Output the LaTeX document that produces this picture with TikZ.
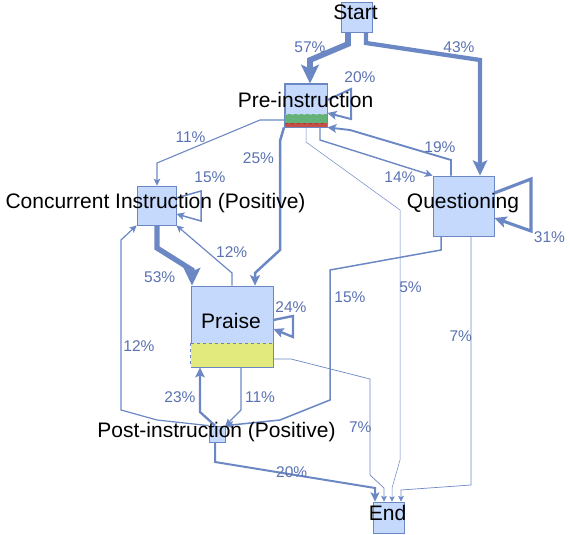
\documentclass[tikz,border=0pt]{standalone}
\usepackage{fontspec}
\setmainfont{Liberation Sans}
\usetikzlibrary{arrows.meta, calc}
\definecolor{boxblue}{RGB}{197, 217, 253}
\definecolor{edgeblue}{RGB}{108, 136, 196}
\definecolor{pctblue}{RGB}{90, 114, 178}
\definecolor{bandgreen}{RGB}{100, 178, 122}
\definecolor{bandred}{RGB}{196, 80, 70}
\definecolor{bandyellow}{RGB}{226, 234, 126}

\begin{document}
\begin{tikzpicture}[x=1pt, y=-1pt,
    box/.style={draw=edgeblue, fill=boxblue, inner sep=0pt, line width=0.8pt},
    state/.style={font=\fontsize{21}{21}\selectfont, anchor=base, inner sep=0pt},
    pct/.style={font=\fontsize{15.5}{16}\selectfont, text=pctblue, inner sep=0pt},
    flow/.style={draw=edgeblue, line width=#1,
        -{Stealth[length=4pt 2.6, width=4pt 2.4, inset=1pt 0.5]}}]
\useasboundingbox (0,0) rectangle (570,535);

% States
\node[box, minimum width=31pt, minimum height=30pt] (start) at (356.5,17) {};
\node[box, minimum width=42pt, minimum height=43pt] (pre) at (306,105.5) {};
\node[box, minimum width=39pt, minimum height=39pt] (conc) at (156.5,205.5) {};
\node[box, minimum width=61pt, minimum height=60pt] (quest) at (463.5,206) {};
\node[box, minimum width=82pt, minimum height=81pt] (praise) at (232,326.5) {};
\node[box, minimum width=16pt, minimum height=16pt] (post) at (217,434) {};
\node[box, minimum width=31pt, minimum height=31pt] (fin) at (388.5,517.5) {};

% Bands
\fill[bandgreen] ($(pre.south west)+(0,-13)$) rectangle ($(pre.south east)+(0,-4)$);
\fill[bandred] ($(pre.south west)+(0,-4)$) rectangle (pre.south east);
\draw[bandgreen!70!white, dashed, line width=0.8pt] ($(pre.south west)+(0,-13)$) -- ($(pre.south east)+(0,-13)$);
\draw[bandred!80!black, dashed, line width=0.8pt] ($(pre.south west)+(0,-4)$) -- ($(pre.south east)+(0,-4)$);
\draw[edgeblue, line width=0.8pt] (pre.north west) rectangle (pre.south east);
\filldraw[fill=bandyellow, draw=edgeblue, dashed, line width=0.8pt] ($(praise.south west)+(0,-24)$) rectangle (praise.south east);

% From start
\draw[flow=5.7pt] (348,0 |- start.south) -- (348,44) -- (310,60) -- (310,0 |- pre.north);
\draw[flow=4.3pt] (366,0 |- start.south) -- (366,43) -- (480,60) -- (480,0 |- quest.north);

% Self loops
\draw[flow=2pt] (pre.east |- 0,100) -- (351,89) -- (351,119) -- (pre.east |- 0,113);
\draw[flow=1.5pt] (conc.east |- 0,198) -- (201,191) -- (201,221) -- (conc.east |- 0,214);
\draw[flow=3.1pt] (quest.east |- 0,193) -- (531,179) -- (531,231) -- (quest.east |- 0,218);
\draw[flow=2.4pt] (praise.east |- 0,320) -- (293,316) -- (293,337) -- (praise.east |- 0,329);

% From pre-instruction
\draw[flow=1.1pt] (pre.west |- 0,120) -- (260,120) -- (157,163) -- (157,0 |- conc.north);
\draw[flow=2.5pt] (284,0 |- pre.south) -- (280,141) -- (280,250) -- (255,273) -- (255,0 |- praise.north);
\draw[flow=1.4pt] (320,0 |- pre.south) -- (320,140) -- (quest.north west);
\draw[flow=0.5pt] (306,0 |- pre.south) -- (306,142) -- (400,210) -- (400,460) -- (392,488) -- (392,0 |- fin.north);

% From questioning
\draw[flow=1.9pt] (451,0 |- quest.north) -- (451,160) -- (350,130) -- (pre.south east);
\draw[flow=1.5pt] (441,0 |- quest.south) -- (441,250) -- (330,270) -- (330,400) -- (280,420) -- (post.north east);
\draw[flow=0.7pt] (471,0 |- quest.south) -- (471,485) -- (401,490) -- (401,0 |- fin.north);

% From concurrent instruction
\draw[flow=5.3pt] (157,0 |- conc.south) -- (157,248) -- (192,270) -- (192,0 |- praise.north);

% From praise
\draw[flow=1.2pt] (232,0 |- praise.north) -- (232,273) -- (conc.south east);
\draw[flow=1.1pt] (241,0 |- praise.south) -- (241,410) -- (post.north east);
\draw[flow=0.7pt] (praise.east |- 0,359) -- (291,359) -- (370,379) -- (370,475) -- (384,488) -- (384,0 |- fin.north);

% From post-instruction
\draw[flow=2.3pt] (215,0 |- post.north) -- (200,412) -- (200,0 |- praise.south);
\draw[flow=1.2pt] (post.north west) -- (157,420) -- (121,410) -- (121,240) -- (conc.south west);
\draw[flow=2pt] (215,0 |- post.south) -- (215,462) -- (375,488) -- (375,0 |- fin.north);

% Percentages
\node[pct] (p57) at (310,47) {57\%};
\node[pct] (p43) at (459,47.5) {43\%};
\node[pct] (p20a) at (360,77.5) {20\%};
\node[pct] (p15a) at (210,177) {15\%};
\node[pct] (p31) at (549.5,237.5) {31\%};
\node[pct] (p24) at (291,307.5) {24\%};
\node[pct] (p11a) at (190.5,137.5) {11\%};
\node[pct] (p25) at (258.5,158) {25\%};
\node[pct] (p14) at (400,177) {14\%};
\node[pct] (p19) at (440,147.5) {19\%};
\node[pct] (p5) at (410.5,287) {5\%};
\node[pct] (p7a) at (460.7,336.5) {7\%};
\node[pct] (p7b) at (360.3,427.5) {7\%};
\node[pct] (p20b) at (291.7,472) {20\%};
\node[pct] (p15b) at (350,297) {15\%};
\node[pct] (p11b) at (260,397) {11\%};
\node[pct] (p23) at (180,397) {23\%};
\node[pct] (p12a) at (139,346) {12\%};
\node[pct] (p12b) at (231.7,252.5) {12\%};
\node[pct] (p53) at (159.7,277) {53\%};

% State names
\node[state] (startlbl) at (355.5,20) {Start};
\node[state] (prelbl) at (305.5,107) {Pre-instruction};
\node[state] (conclbl) at (155.5,208) {Concurrent Instruction (Positive)};
\node[state] (questlbl) at (463,208) {Questioning};
\node[state] (praiselbl) at (231,328) {Praise};
\node[state] (postlbl) at (216.5,437) {Post-instruction (Positive)};
\node[state] (finlbl) at (387.5,520) {End};
\end{tikzpicture}
\end{document}
